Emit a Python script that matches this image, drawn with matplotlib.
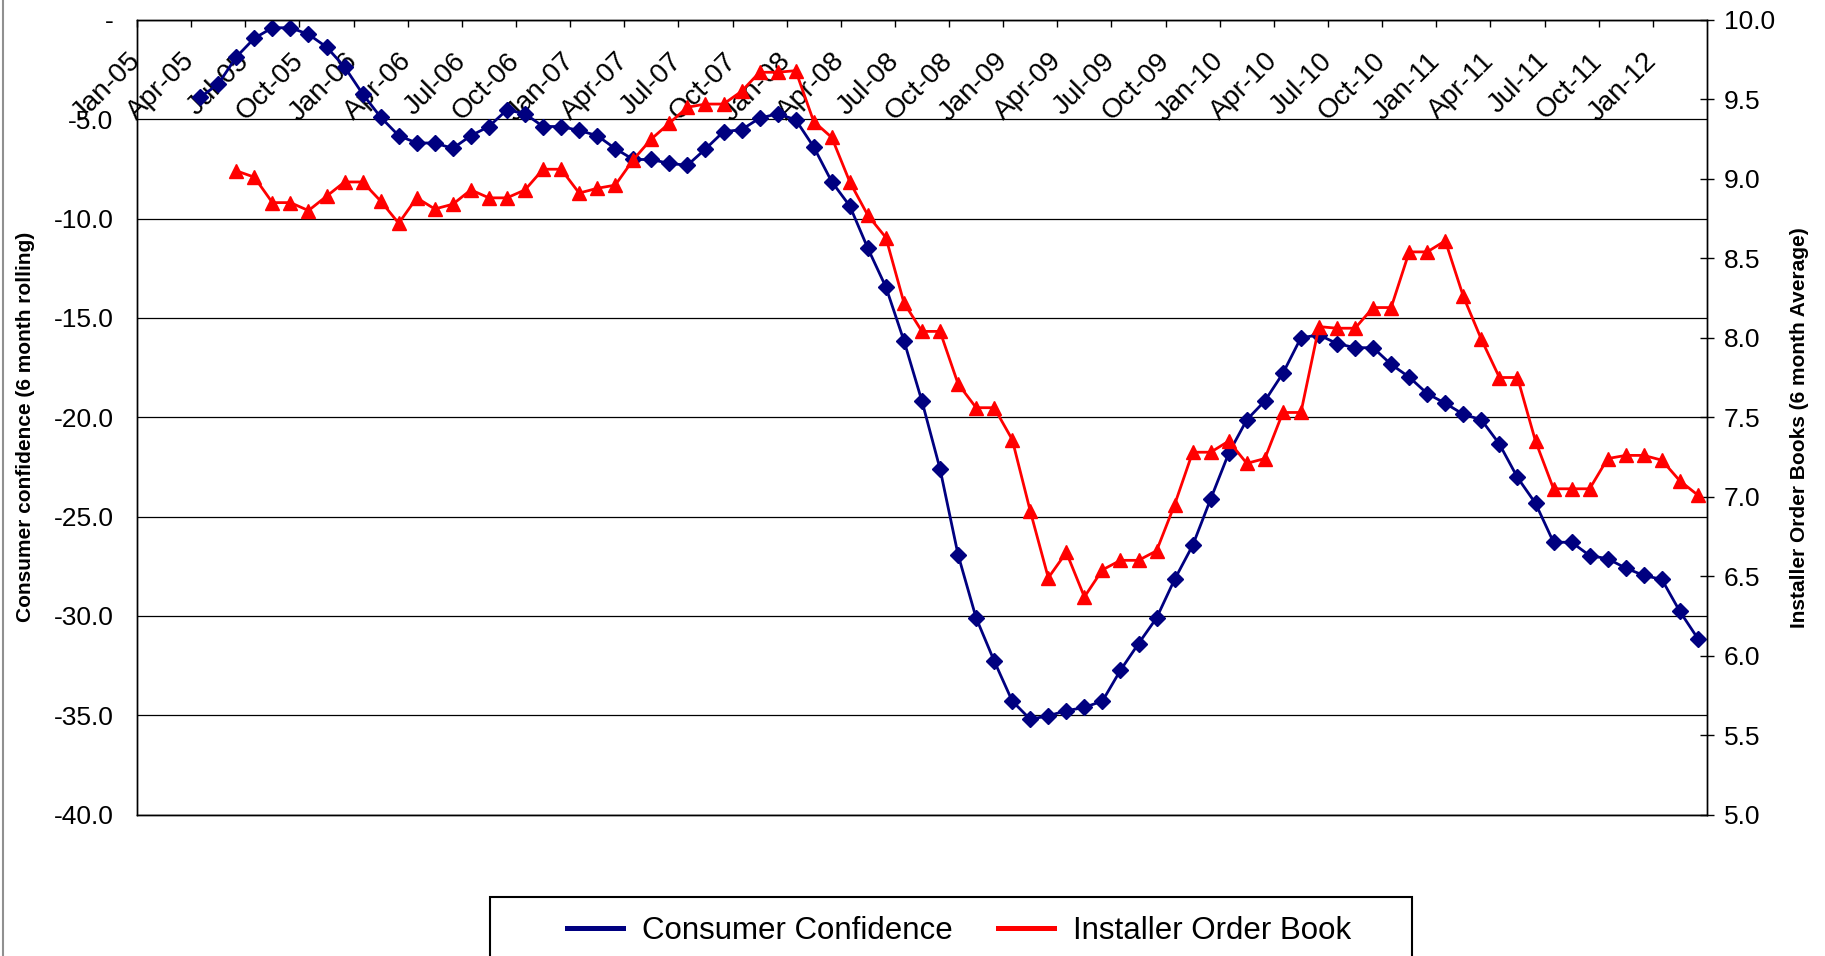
import matplotlib
matplotlib.use("Agg")
import matplotlib.pyplot as plt
from matplotlib.lines import Line2D
from matplotlib.patches import Rectangle
import numpy as np

plt.rcParams['font.family'] = ['Liberation Sans', 'DejaVu Sans']

# quarterly axis labels, Jan-05 .. Jan-12
tick_labels = ['Jan-05', 'Apr-05', 'Jul-05', 'Oct-05', 'Jan-06', 'Apr-06', 'Jul-06', 'Oct-06',
               'Jan-07', 'Apr-07', 'Jul-07', 'Oct-07', 'Jan-08', 'Apr-08', 'Jul-08', 'Oct-08',
               'Jan-09', 'Apr-09', 'Jul-09', 'Oct-09', 'Jan-10', 'Apr-10', 'Jul-10', 'Oct-10',
               'Jan-11', 'Apr-11', 'Jul-11', 'Oct-11', 'Jan-12']

# consumer confidence, 6 month rolling, Apr-05 .. Mar-12
confidence = [-3.9, -3.23, -1.87, -0.93, -0.4, -0.4, -0.73, -1.37, -2.37,
              -3.73, -4.9, -5.83, -6.2, -6.2, -6.47, -5.83, -5.37, -4.53, -4.73, -5.37, -5.37,
              -5.57, -5.83, -6.48, -7.03, -7.03, -7.23, -7.32, -6.5, -5.63, -5.53, -4.95, -4.73,
              -5.03, -6.4, -8.15, -9.37, -11.5, -13.45, -16.15, -19.2, -22.6, -26.92, -30.1, -32.26,
              -34.28, -35.2, -35.02, -34.77, -34.6, -34.28, -32.73, -31.39, -30.1, -28.16, -26.45, -24.11,
              -21.81, -20.13, -19.18, -17.79, -16.0, -15.86, -16.29, -16.5, -16.5, -17.34, -17.98, -18.81,
              -19.3, -19.85, -20.13, -21.35, -23.03, -24.33, -26.29, -26.29, -26.96, -27.12, -27.59, -27.96,
              -28.16, -29.77, -31.14]

# installer order books, 6 month average, Jun-05 .. Mar-12
order_book = [9.05, 9.01, 8.85, 8.85, 8.80, 8.89, 8.98,
              8.98, 8.86, 8.72, 8.88, 8.81, 8.84, 8.93, 8.88, 8.88, 8.93, 9.06, 9.06,
              8.91, 8.94, 8.96, 9.12, 9.25, 9.35, 9.45, 9.47, 9.47, 9.55, 9.67, 9.67,
              9.68, 9.36, 9.26, 8.98, 8.77, 8.63, 8.22, 8.04, 8.04, 7.71, 7.56, 7.56,
              7.36, 6.91, 6.49, 6.65, 6.37, 6.54, 6.60, 6.60, 6.66, 6.95, 7.28, 7.28,
              7.35, 7.21, 7.24, 7.53, 7.53, 8.07, 8.06, 8.06, 8.19, 8.19, 8.54, 8.54,
              8.61, 8.26, 7.99, 7.75, 7.75, 7.35, 7.05, 7.05, 7.05, 7.24, 7.26, 7.26,
              7.23, 7.10, 7.01]

conf_start = 3    # first month index (Jan-05 = 0)
order_start = 5

# points sit mid-month
x_conf = np.arange(len(confidence)) + conf_start + 0.5
x_order = np.arange(len(order_book)) + order_start + 0.5

navy = '#000080'
red = '#ff0000'

fig = plt.figure(figsize=(18.25, 9.56), dpi=100)
ax = fig.add_axes([0.0751, 0.1478, 0.8602, 0.8315])
ax2 = ax.twinx()

ax.plot(x_conf, confidence, color=navy, lw=2, marker='D', ms=8.5, zorder=3)
ax2.plot(x_order, order_book, color=red, lw=2, marker='^', ms=10.5, zorder=3)

ax.set_xlim(0, 87)
ax.set_ylim(-40, 0)
ax2.set_ylim(5, 10)

# left axis
yt = np.arange(-40, 1, 5)
ax.set_yticks(yt)
ax.set_yticklabels([f'{v:.1f}' if v != 0 else '-' for v in yt])
ax.yaxis.grid(True, color='black', lw=0.9)
ax.set_axisbelow(True)
ax.tick_params(axis='y', length=0, pad=17, labelsize=19)

# date axis along the zero line at the top
ax.set_xticks(np.arange(0, 85, 3))
ax.set_xticklabels(tick_labels, rotation=45, ha='right', va='center', rotation_mode='anchor')
ax.xaxis.tick_top()
ax.tick_params(axis='x', direction='in', length=5, width=1, pad=-27, labelsize=20)

# right axis
yt2 = np.arange(5, 10.01, 0.5)
ax2.set_yticks(yt2)
ax2.set_yticklabels([f'{v:.1f}' for v in yt2])
ax2.tick_params(axis='y', direction='inout', length=10, width=1, pad=7, labelsize=19)

for a in (ax, ax2):
    for s in a.spines.values():
        s.set_color('black')
        s.set_linewidth(1)

fig.text(0.014, 0.554, 'Consumer confidence (6 month rolling)', rotation=90,
         ha='center', va='center', fontsize=15, fontweight='bold')
fig.text(0.9858, 0.553, 'Installer Order Books (6 month Average)', rotation=90,
         ha='center', va='center', fontsize=15, fontweight='bold')

# legend
handles = [Line2D([], [], color=navy, lw=3.6), Line2D([], [], color=red, lw=3.6)]
fig.legend(handles, ['Consumer Confidence', 'Installer Order Book'], loc='center left',
           bbox_to_anchor=(567 / 1825, 25 / 956), ncol=2, frameon=False, fontsize=22.5,
           handlelength=1.8, handletextpad=0.6, columnspacing=1.45,
           borderpad=0, borderaxespad=0)
fig.add_artist(Rectangle((490 / 1825, -0.02), 922 / 1825, 0.02 + 59 / 956,
                         transform=fig.transFigure, fill=False, ec='black', lw=1.5))

# chart area border on the left
fig.add_artist(Line2D([0.0015, 0.0015], [0, 1], color='#909090', lw=1.5,
                      transform=fig.transFigure))

fig.savefig('out.png', dpi=100)
